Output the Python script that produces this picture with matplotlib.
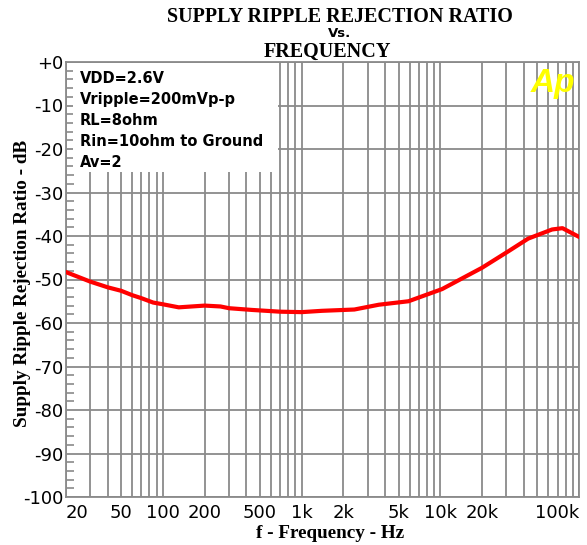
import matplotlib
matplotlib.use("Agg")
import matplotlib.pyplot as plt
import matplotlib.ticker as ticker
from matplotlib.patches import Rectangle

# curve
freq_hz = [20, 30, 40, 50, 60, 70, 85, 100, 130, 200, 260, 300, 440, 700,
           1000, 1400, 2400, 3600, 5900, 10300, 20000, 31000, 43000, 64000,
           76000, 100000]
psrr_db = [-48.3, -50.5, -51.8, -52.6, -53.6, -54.3, -55.3, -55.7, -56.4, -56.0,
           -56.2, -56.6, -57.0, -57.4, -57.5, -57.2, -56.9, -55.8, -55.0, -52.2,
           -47.3, -43.5, -40.6, -38.5, -38.2, -40.2]

x_ticks = [20, 50, 100, 200, 500, 1000, 2000, 5000, 10000, 20000, 100000]
x_labels = ["20", "50", "100", "200", "500", "1k", "2k", "5k", "10k", "20k", "100k"]
y_ticks = list(range(0, -101, -10))
y_labels = ["+0"] + ["-%d" % (-v) for v in y_ticks[1:]]
conditions = ["VDD=2.6V", "Vripple=200mVp-p", "RL=8ohm", "Rin=10ohm to Ground", "Av=2"]

grey = "#8a8a8a"

fig = plt.figure(figsize=(5.87, 5.45), dpi=100)
ax = fig.add_axes([66 / 587, 1 - 497 / 545, 513 / 587, 435 / 545])

ax.set_xscale("log")
ax.set_xlim(20, 100000)
ax.set_ylim(-100, 0)

# labelled x ticks as major, every other decade step as minor grid
ax.xaxis.set_major_locator(ticker.FixedLocator(x_ticks))
ax.xaxis.set_major_formatter(ticker.FixedFormatter(x_labels))
ax.xaxis.set_minor_locator(ticker.LogLocator(base=10, subs=range(1, 10), numticks=50))
ax.xaxis.set_minor_formatter(ticker.NullFormatter())
ax.grid(True, which="both", axis="x", color=grey, linewidth=1.3)
ax.grid(True, which="major", axis="y", color=grey, linewidth=1.3)
ax.set_axisbelow(True)

ax.tick_params(axis="x", which="both", length=0, pad=5, labelsize=13)
for lab in ax.get_xticklabels():
    lab.set_family("DejaVu Sans")

ax.yaxis.set_major_locator(ticker.FixedLocator(y_ticks))
ax.yaxis.set_major_formatter(ticker.FixedFormatter(y_labels))
ax.yaxis.set_minor_locator(ticker.MultipleLocator(2))
ax.tick_params(axis="y", which="major", length=0, pad=2, labelsize=13)
ax.tick_params(axis="y", which="minor", direction="in", length=6, color=grey, width=1.2)

for s in ax.spines.values():
    s.set_color(grey)
    s.set_linewidth(1.3)

fig.canvas.draw()
xl = ax.get_xticklabels()
xl[0].set_horizontalalignment("left")
xl[-1].set_horizontalalignment("right")

# white box behind the test conditions
ax.add_patch(Rectangle((0.014, 0.748), 0.40, 0.249, transform=ax.transAxes,
                       facecolor="white", edgecolor="none", zorder=1))
for i, line in enumerate(conditions):
    ax.text(0.027, 0.962 - i * 0.0485, line, transform=ax.transAxes,
            fontsize=10.5, fontweight="bold", family="DejaVu Sans",
            va="center", ha="left", zorder=3)

ax.plot(freq_hz, psrr_db, color="red", linewidth=3, zorder=4)

ax.text(0.949, 0.931, "Ap", transform=ax.transAxes, color="#ffff00",
        fontsize=24, fontweight="bold", fontstyle="italic", family="Liberation Sans",
        ha="center", va="baseline", zorder=3)

fig.text(340 / 587, 1 - 17 / 545, "SUPPLY RIPPLE REJECTION RATIO", ha="center", va="center",
         fontsize=14.5, fontweight="bold", family="Liberation Serif")
fig.text(340 / 587, 1 - 33.5 / 545, "Vs.", ha="center", va="center",
         fontsize=9.5, fontweight="bold", family="DejaVu Sans")
fig.text(327 / 587, 1 - 52 / 545, "FREQUENCY", ha="center", va="center",
         fontsize=14.5, fontweight="bold", family="Liberation Serif")
fig.text(330 / 587, 1 - 533 / 545, "f - Frequency - Hz", ha="center", va="center",
         fontsize=13.8, fontweight="bold", family="Liberation Serif")
fig.text(23 / 587, 1 - 283 / 545, "Supply Ripple Rejection Ratio - dB", ha="center", va="center",
         rotation=90, fontsize=13.8, fontweight="bold", family="Liberation Serif")

fig.savefig("out.png", dpi=100)
